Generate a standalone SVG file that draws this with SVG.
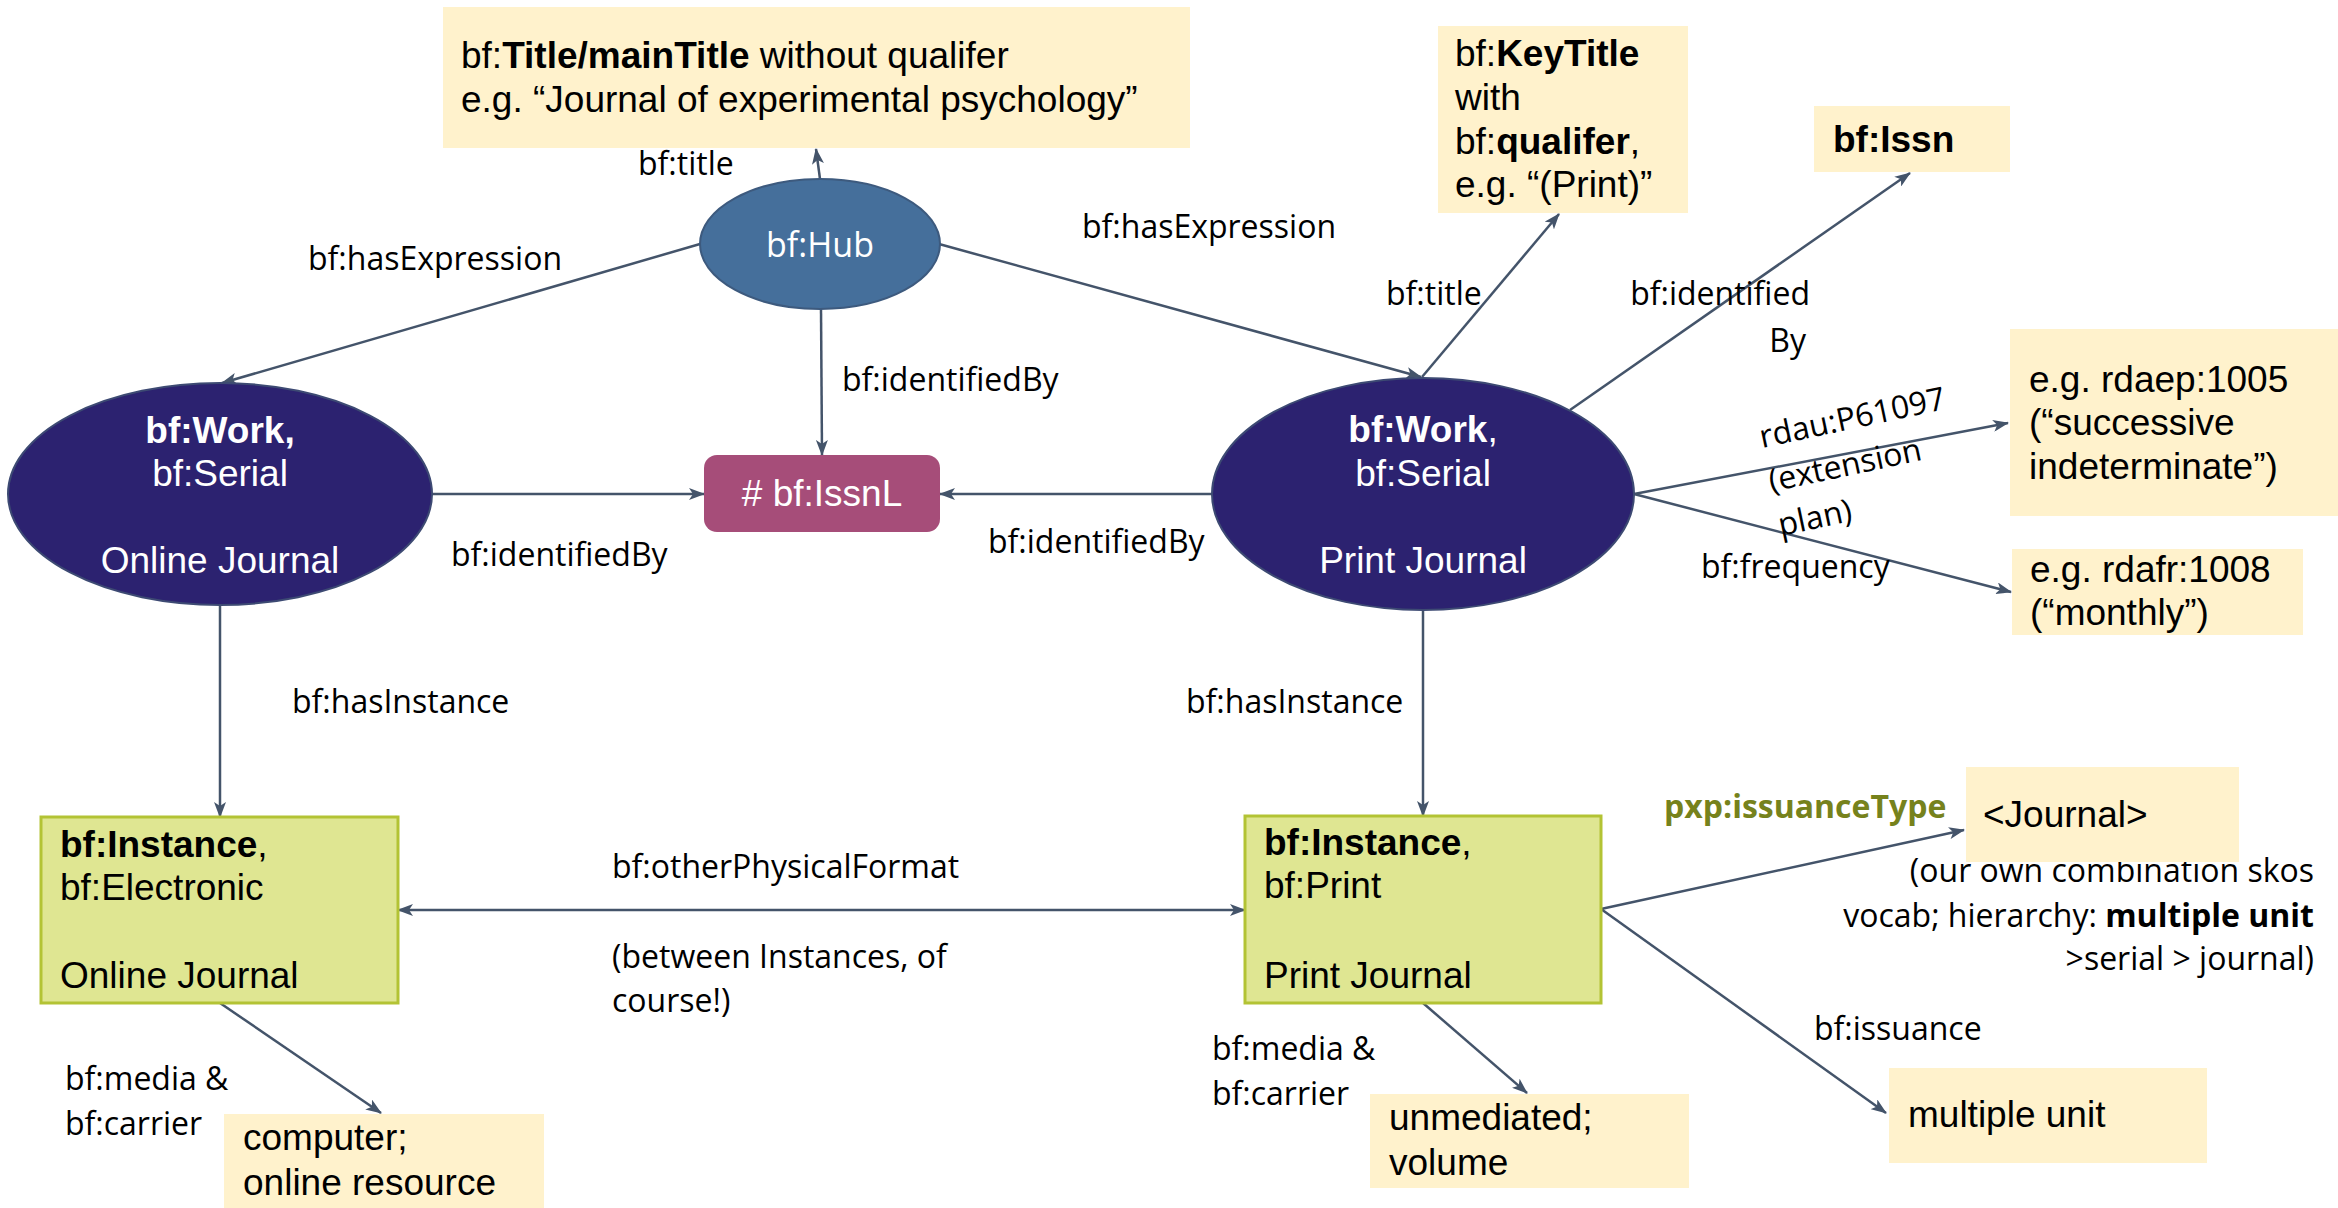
<svg xmlns="http://www.w3.org/2000/svg" width="2338" height="1208" viewBox="0 0 2338 1208">
<defs>
<marker id="ah" markerUnits="userSpaceOnUse" markerWidth="16" markerHeight="12" refX="15" refY="6" orient="auto-start-reverse">
<path d="M0,0 L16,6 L0,12 L4,6 z" fill="#44546a"/>
</marker>
</defs>
<style>
.lbl{font-family:"Open Sans","Liberation Sans",sans-serif;font-size:32px;fill:#000}
.box{font-family:"Liberation Sans",Arial,sans-serif;font-size:37px;fill:#000}
.wt{font-family:"Liberation Sans",Arial,sans-serif;font-size:37px;fill:#fff}
.b{font-weight:bold}
.cream{fill:#fff2cc}
.green{fill:#dfe692;stroke:#b3c334;stroke-width:3}
.work{fill:#2c2270;stroke:#3d4a73;stroke-width:2}
.edge{stroke:#44546a;stroke-width:2.5;fill:none;marker-end:url(#ah)}
</style>
<rect width="2338" height="1208" fill="#fff"/>

<g id="connectors">
<line class="edge" x1="820" y1="179" x2="816" y2="149"/>
<line class="edge" x1="700" y1="244" x2="222" y2="383"/>
<line class="edge" x1="939" y1="244" x2="1421" y2="377"/>
<line class="edge" x1="821" y1="309" x2="822" y2="455"/>
<line class="edge" x1="431" y1="494" x2="704" y2="494"/>
<line class="edge" x1="1212" y1="494" x2="940" y2="494"/>
<line class="edge" x1="1422" y1="377" x2="1559" y2="214"/>
<line class="edge" x1="1570" y1="410" x2="1910" y2="173"/>
<line class="edge" x1="1634" y1="494" x2="2008" y2="423"/>
<line class="edge" x1="1634" y1="494" x2="2011" y2="592"/>
<line class="edge" x1="220" y1="605" x2="220" y2="817"/>
<line class="edge" x1="1423" y1="610" x2="1423" y2="816"/>
<line class="edge" x1="398" y1="910" x2="1245" y2="910" style="marker-start:url(#ah)"/>
<line class="edge" x1="220" y1="1003" x2="381" y2="1113"/>
<line class="edge" x1="1423" y1="1003" x2="1527" y2="1093"/>
<line class="edge" x1="1601" y1="909" x2="1886" y2="1113"/>
<line class="edge" x1="1601" y1="909" x2="1964" y2="830"/>
</g>

<g id="edge-labels">
<text class="lbl" x="638" y="175">bf:title</text>
<text class="lbl" x="308" y="270">bf:hasExpression</text>
<text class="lbl" x="842" y="391">bf:identifiedBy</text>
<text class="lbl" x="451" y="566">bf:identifiedBy</text>
<text class="lbl" x="988" y="553">bf:identifiedBy</text>
<text class="lbl" x="1082" y="238">bf:hasExpression</text>
<text class="lbl" x="1386" y="305">bf:title</text>
<text class="lbl" x="1810" y="305" text-anchor="end">bf:identified</text>
<text class="lbl" x="1806" y="352" text-anchor="end">By</text>
<g transform="translate(1762,448) rotate(-12)">
<text class="lbl" x="0" y="0">rdau:P61097</text>
<text class="lbl" x="0" y="45">(extension</text>
<text class="lbl" x="0" y="90">plan)</text>
</g>
<text class="lbl" x="1701" y="578">bf:frequency</text>
<text class="lbl" x="292" y="713">bf:hasInstance</text>
<text class="lbl" x="1186" y="713">bf:hasInstance</text>
<text class="lbl" x="612" y="878">bf:otherPhysicalFormat</text>
<text class="lbl" x="612" y="968">(between Instances, of</text>
<text class="lbl" x="612" y="1012">course!)</text>
<text class="lbl" x="65" y="1090">bf:media &amp;</text>
<text class="lbl" x="65" y="1135">bf:carrier</text>
<text class="lbl" x="1212" y="1060">bf:media &amp;</text>
<text class="lbl" x="1212" y="1105">bf:carrier</text>
<text class="lbl" x="1814" y="1040">bf:issuance</text>
<text class="lbl b" x="1664" y="818" style="fill:#76821c">pxp:issuanceType</text>
<text class="lbl" x="2314" y="882" text-anchor="end">(our own combination skos</text>
<text class="lbl" x="2314" y="927" text-anchor="end">vocab; hierarchy: <tspan class="b">multiple unit</tspan></text>
<text class="lbl" x="2314" y="970" text-anchor="end">&gt;serial &gt; journal)</text>
</g>

<g id="title-box">
<rect class="cream" x="443" y="7" width="747" height="141"/>
<text class="box" x="461" y="68">bf:<tspan class="b">Title/mainTitle</tspan> without qualifer</text>
<text class="box" x="461" y="112">e.g. “Journal of experimental psychology”</text>
</g>

<g id="hub">
<ellipse cx="820" cy="244" rx="120" ry="65" fill="#456f9b" stroke="#3d5a7e" stroke-width="2"/>
<text x="820" y="257" text-anchor="middle" style="font-family:'Open Sans','Liberation Sans',sans-serif;font-size:34px;fill:#fff">bf:Hub</text>
</g>

<g id="issnl">
<rect x="704" y="455" width="236" height="77" rx="13" fill="#a64d79"/>
<text class="wt" x="822" y="506" text-anchor="middle"># bf:IssnL</text>
</g>

<g id="work-online">
<ellipse class="work" cx="220" cy="494" rx="212" ry="111"/>
<text class="wt b" x="220" y="443" text-anchor="middle">bf:Work,</text>
<text class="wt" x="220" y="486" text-anchor="middle">bf:Serial</text>
<text class="wt" x="220" y="573" text-anchor="middle">Online Journal</text>
</g>

<g id="work-print">
<ellipse class="work" cx="1423" cy="494" rx="211" ry="116"/>
<text class="wt" x="1423" y="442" text-anchor="middle"><tspan class="b">bf:Work</tspan>,</text>
<text class="wt" x="1423" y="486" text-anchor="middle">bf:Serial</text>
<text class="wt" x="1423" y="573" text-anchor="middle">Print Journal</text>
</g>

<g id="keytitle">
<rect class="cream" x="1438" y="26" width="250" height="187"/>
<text class="box" x="1455" y="66">bf:<tspan class="b">KeyTitle</tspan></text>
<text class="box" x="1455" y="110">with</text>
<text class="box" x="1455" y="154">bf:<tspan class="b">qualifer</tspan>,</text>
<text class="box" x="1455" y="197">e.g. “(Print)”</text>
</g>

<g id="issn">
<rect class="cream" x="1814" y="106" width="196" height="66"/>
<text class="box b" x="1833" y="152">bf:Issn</text>
</g>

<g id="rdaep">
<rect class="cream" x="2010" y="329" width="328" height="187"/>
<text class="box" x="2029" y="392">e.g. rdaep:1005</text>
<text class="box" x="2029" y="435">(“successive</text>
<text class="box" x="2029" y="479">indeterminate”)</text>
</g>

<g id="rdafr">
<rect class="cream" x="2012" y="549" width="291" height="86"/>
<text class="box" x="2030" y="582">e.g. rdafr:1008</text>
<text class="box" x="2030" y="625">(“monthly”)</text>
</g>

<g id="instance-online">
<rect class="green" x="41" y="817" width="357" height="186"/>
<text class="box" x="60" y="857"><tspan class="b">bf:Instance</tspan>,</text>
<text class="box" x="60" y="900">bf:Electronic</text>
<text class="box" x="60" y="988">Online Journal</text>
</g>

<g id="instance-print">
<rect class="green" x="1245" y="816" width="356" height="187"/>
<text class="box" x="1264" y="855"><tspan class="b">bf:Instance</tspan>,</text>
<text class="box" x="1264" y="898">bf:Print</text>
<text class="box" x="1264" y="988">Print Journal</text>
</g>

<g id="journal">
<rect class="cream" x="1966" y="767" width="273" height="95"/>
<text class="box" x="1983" y="827">&lt;Journal&gt;</text>
</g>

<g id="multiple-unit">
<rect class="cream" x="1889" y="1068" width="318" height="95"/>
<text class="box" x="1908" y="1127">multiple unit</text>
</g>

<g id="unmediated">
<rect class="cream" x="1370" y="1094" width="319" height="94"/>
<text class="box" x="1389" y="1130">unmediated;</text>
<text class="box" x="1389" y="1175">volume</text>
</g>

<g id="computer">
<rect class="cream" x="224" y="1114" width="320" height="94"/>
<text class="box" x="243" y="1150">computer;</text>
<text class="box" x="243" y="1195">online resource</text>
</g>
</svg>
